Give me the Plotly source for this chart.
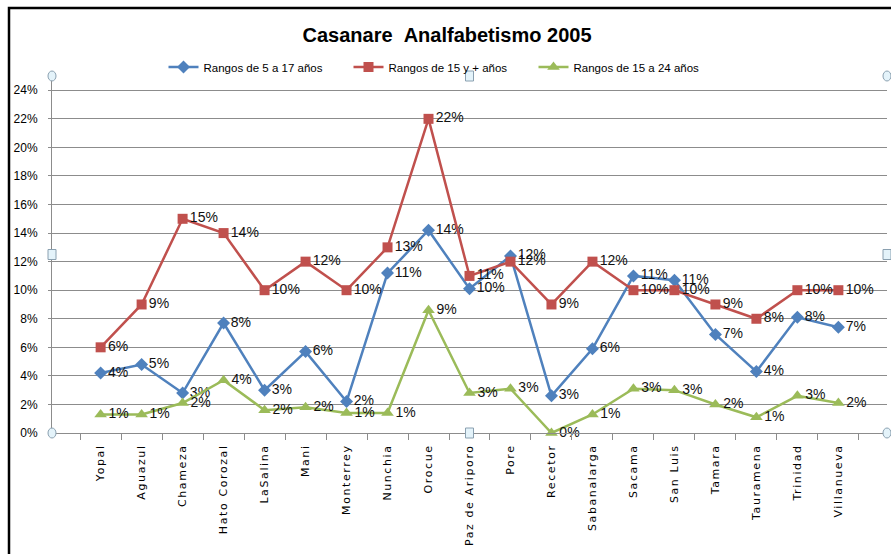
import plotly.graph_objects as go

categories = ["Yopal", "Aguazul", "Chameza", "Hato Corozal", "LaSalina", "Mani", "Monterrey",
              "Nunchia", "Orocue", "Paz de Ariporo", "Pore", "Recetor", "Sabanalarga", "Sacama",
              "San Luis", "Tamara", "Tauramena", "Trinidad", "Villanueva"]
rango_5_17 = [4.2, 4.8, 2.8, 7.7, 3.0, 5.7, 2.2, 11.2, 14.2, 10.1, 12.4, 2.6, 5.9, 11.0, 10.7, 6.9, 4.3, 8.1, 7.4]
rango_15_mas = [6, 9, 15, 14, 10, 12, 10, 13, 22, 11, 12, 9, 12, 10, 10, 9, 8, 10, 10]
rango_15_24 = [1.3, 1.3, 2.1, 3.7, 1.6, 1.8, 1.4, 1.4, 8.6, 2.8, 3.1, 0.0, 1.3, 3.1, 3.0, 2.0, 1.1, 2.6, 2.1]
series_names = ["Rangos de 5 a 17 años", "Rangos de 15 y + años", "Rangos de 15 a 24 años"]

FONT = "Liberation Sans, Arial, sans-serif"

fig = go.Figure()
specs = [
    (series_names[0], rango_5_17, "#4F81BD", "diamond", 10),
    (series_names[1], rango_15_mas, "#C0504D", "square", 10),
    (series_names[2], rango_15_24, "#9BBB59", "triangle-up", 11),
]
for name, vals, color, sym, size in specs:
    v = [x / 100 for x in vals]
    fig.add_trace(go.Scatter(
        x=categories, y=v, name=name, mode="lines+markers+text",
        line=dict(color=color, width=2.5),
        marker=dict(symbol=sym, size=size, color=color),
        text=[f"{round(x)}%" for x in vals],
        textposition="middle right",
        textfont=dict(family=FONT, size=14, color="#111"),
        cliponaxis=False,
    ))

shapes = [dict(type="rect", xref="paper", yref="paper", x0=(9 - 52) / 835, x1=(900 - 52) / 835,
               y0=(433 - 562) / 357, y1=(433 - 8) / 357, line=dict(color="black", width=2.5), layer="below")]
# selection handles
handles = [(0, 1, "circle"), (1, 1, "circle"), (0, 0, "circle"), (1, 0, "circle"),
           (0.5, 1, "rect"), (0.5, 0, "rect"), (0, 0.5, "rect"), (1, 0.5, "rect")]
for hx, hy, kind in handles:
    shapes.append(dict(type=kind, xref="paper", yref="paper", xsizemode="pixel", ysizemode="pixel",
                       xanchor=hx, yanchor=hy, x0=-4, x1=4, y0=-5, y1=5,
                       fillcolor="#e4f3fa", line=dict(color="#8aa0b0", width=1)))

fig.update_layout(
    width=891, height=554,
    margin=dict(l=52, r=4, t=76, b=121),
    paper_bgcolor="white", plot_bgcolor="white",
    title=dict(text="<b>Casanare \u00a0Analfabetismo 2005</b>", x=(447 - 52) / 835, xref="paper", xanchor="center",
               y=1 - 35 / 554, yanchor="middle", font=dict(family=FONT, size=20, color="black")),
    legend=dict(orientation="h", x=(441 - 52) / 835, xanchor="center", y=(433 - 67) / 357, yanchor="middle",
                font=dict(family=FONT, size=11.5, color="black"), itemwidth=30,
                entrywidth=140, bgcolor="rgba(0,0,0,0)"),
    shapes=shapes,
    showlegend=True,
)
fig.update_yaxes(range=[0, 0.25], tickvals=[i / 100 for i in range(0, 25, 2)], tickformat=".0%",
                 showgrid=True, gridcolor="#8c8c8c", gridwidth=1, showline=True, linecolor="#8c8c8c",
                 zeroline=False, tickfont=dict(family=FONT, size=12, color="black"),
                 ticks="outside", ticklen=3, tickcolor="#8c8c8c", automargin=False,
                 ticklabelstandoff=8)
fig.update_xaxes(type="category", tickangle=-90, tickson="boundaries", ticks="outside", ticklen=6,
                 tickcolor="#8c8c8c", showline=True, linecolor="#8c8c8c", showgrid=False,
                 tickfont=dict(family="DejaVu Sans", size=11, color="black"), automargin=False,
                 ticklabelstandoff=6)

post = ("document.body.style.margin='0';"
        "document.querySelectorAll('.xtick text').forEach(function(t){t.style.letterSpacing='1.6px';});")
fig.write_html("out.html", post_script=post, config={"displayModeBar": False})
